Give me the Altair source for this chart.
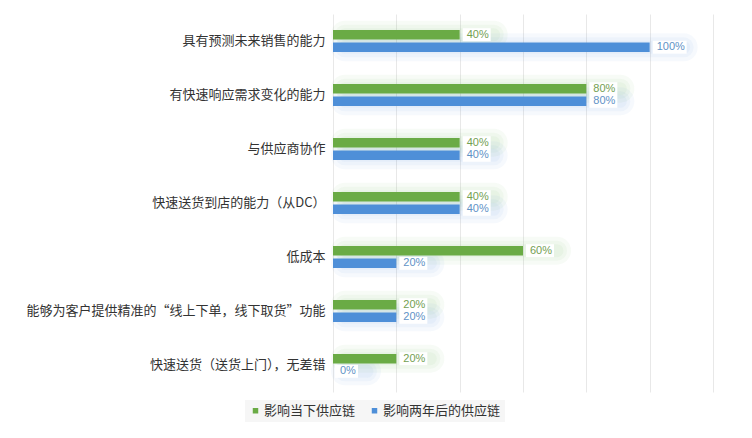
import altair as alt
import pandas as pd

categories = [
    "具有预测未来销售的能力",
    "有快速响应需求变化的能力",
    "与供应商协作",
    "快速送货到店的能力（从DC）",
    "低成本",
    "能够为客户提供精准的“线上下单，线下取货”功能",
    "快速送货（送货上门），无差错",
]
series = ["影响当下供应链", "影响两年后的供应链"]
current_vals = [40, 80, 40, 40, 60, 20, 20]
future_vals = [100, 80, 40, 40, 20, 20, 0]
x_ticks = [0, 20, 40, 60, 80, 100, 120]

rows = []
for c, a, b in zip(categories, current_vals, future_vals):
    rows.append({"cat": c, "series": series[0], "value": a, "label": f"{a}%", "len": len(f"{a}%")})
    rows.append({"cat": c, "series": series[1], "value": b, "label": f"{b}%", "len": len(f"{b}%")})
df = pd.DataFrame(rows)

GREEN = "#6AAB45"
BLUE = "#4E8FD8"
FONT = "Noto Sans CJK SC"

y_enc = alt.Y("cat:N", sort=categories,
              scale=alt.Scale(paddingInner=0.59, paddingOuter=0.295),
              axis=alt.Axis(title=None, domain=False, ticks=False, labelFontSize=13,
                            labelColor="#333333", labelPadding=8, labelFont=FONT,
                            labelLimit=400))
yoff = alt.YOffset("series:N", sort=series, scale=alt.Scale(paddingInner=0.25))
x_scale = alt.Scale(domain=[0, 120], nice=False)
y_plain = alt.Y("cat:N", sort=categories)

glow_layers = []
for sw in [28, 20, 13]:
    glow_layers.append(
        alt.Chart(df).mark_rule(strokeCap="round", strokeWidth=sw, opacity=0.05,
                                xOffset=12, x2Offset=34).encode(
            x=alt.X("zero:Q", scale=x_scale),
            x2="value:Q",
            y=y_plain,
            yOffset=yoff,
            color=alt.Color("series:N", scale=alt.Scale(domain=series, range=[GREEN, BLUE]),
                            legend=None),
        ).transform_calculate(zero="0")
    )

bars = alt.Chart(df).mark_bar().encode(
    x=alt.X("value:Q", scale=x_scale,
            axis=alt.Axis(title=None, values=x_ticks, labels=False, ticks=False,
                          domain=False, grid=True, gridColor="#e8e8e8")),
    y=y_enc,
    yOffset=yoff,
    color=alt.Color("series:N", sort=series,
                    scale=alt.Scale(domain=series, range=[GREEN, BLUE]),
                    legend=alt.Legend(title=None, orient="none", direction="horizontal",
                                      legendX=-88, legendY=386, symbolType="square",
                                      symbolSize=30, labelFontSize=13, labelFont=FONT,
                                      labelColor="#333333", columnPadding=12,
                                      fillColor="#f6f6f6", padding=4,
                                      symbolStrokeWidth=0, labelOffset=2)),
)

box_paths = {
    2: "M2,-6.5L25,-6.5L25,6.5L2,6.5Z",
    3: "M3,-6.5L31,-6.5L31,6.5L3,6.5Z",
    4: "M3,-6.5L37,-6.5L37,6.5L3,6.5Z",
}
boxes = alt.Chart(df).mark_point(filled=True, size=4, opacity=1, strokeWidth=0).encode(
    x=alt.X("value:Q", scale=x_scale),
    y=y_plain,
    yOffset=yoff,
    shape=alt.Shape("len:O", scale=alt.Scale(domain=[2, 3, 4],
                                             range=[box_paths[2], box_paths[3], box_paths[4]]),
                    legend=None),
    color=alt.value("white"),
)

labels = alt.Chart(df).mark_text(align="left", baseline="middle", dx=7, fontSize=11,
                                  font="Liberation Sans").encode(
    x=alt.X("value:Q", scale=x_scale),
    y=y_plain,
    yOffset=yoff,
    text="label:N",
    color=alt.Color("series:N", scale=alt.Scale(domain=series, range=["#73A052", "#5F92C6"]),
                    legend=None),
)

chart = alt.layer(*glow_layers, bars, boxes, labels).resolve_scale(color="independent").properties(
    width=380, height=378,
    autosize=alt.AutoSizeParams(type="none"),
    padding={"left": 325, "top": 6, "right": 30, "bottom": 40},
).configure_view(stroke=None)

chart.save("out.html", embed_options={"renderer": "svg", "actions": False})
